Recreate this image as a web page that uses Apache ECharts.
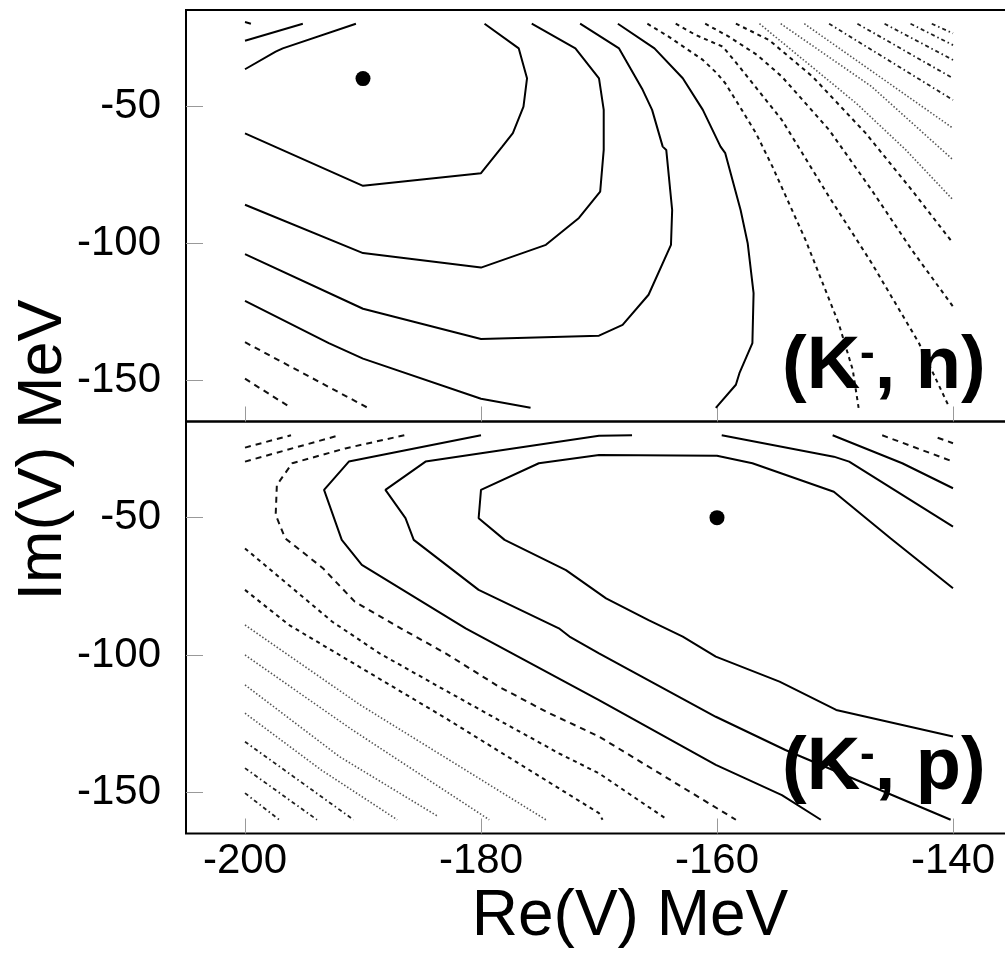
<!DOCTYPE html>
<html><head><meta charset="utf-8">
<script src="https://cdn.jsdelivr.net/npm/echarts@6/dist/echarts.min.js"></script>
<style>html,body{margin:0;padding:0;background:#fff}#c{width:1005px;height:956px}</style>
</head><body><div id="c"></div>
<script>
// ---- axis ticks / labels ----
const xTicks = [-200, -180, -160, -140];
const yTicks = [-150, -100, -50];
const xTitle = 'Re(V) MeV';
const yTitle = 'Im(V) MeV';
const panelTags = ['n', 'p'];

// ---- best-fit points ----
const bestN = [[-190, -40]];
const bestP = [[-160, -50]];

// ---- (K-, n) panel contours ----
const nS0 = [[-200, -19.4], [-199.5, -20]];
const nS1 = [[-200, -26.2], [-195.1, -20]];
const nS2 = [[-200, -36.6], [-197.4, -30.2], [-196.8, -29], [-190.6, -20]];
const nC1 = [[-200, -60], [-190, -79.1], [-180, -74.5], [-178.2, -64.8], [-177.3, -59.9], [-176.4, -50.2], [-176.1, -39.9], [-176.8, -29], [-179.7, -20]];
const nC2 = [[-200, -86], [-190, -103.6], [-180, -108.9], [-174.5, -100.6], [-171.7, -90.8], [-169.9, -81.2], [-169.6, -66], [-169.6, -51.4], [-170, -39.9], [-172, -29], [-175.7, -20]];
const nC3 = [[-200, -104], [-190, -123.9], [-180, -134.9], [-170, -133.7], [-168, -129.8], [-165.8, -118.8], [-163.9, -100.6], [-163.8, -87.9], [-164.3, -66], [-164.6, -64.8], [-165.5, -51.4], [-166.3, -44.1], [-168.3, -29], [-171.6, -20]];
const nC4 = [[-168.4, -20], [-165.3, -29], [-162.9, -39.9], [-161.2, -51.4], [-159.7, -64.8], [-159.3, -67.2], [-158, -87.9], [-157.4, -100], [-156.9, -118.2], [-157, -136.4], [-158.1, -147.4], [-158.4, -151.6], [-160.1, -160]];
const nC5 = [[-200, -121], [-192.9, -136.4], [-190, -142.1], [-180, -156.7], [-175.8, -160]];
const nDa = [[-200, -136.1], [-189.6, -160]];
const nDb = [[-200, -149.4], [-196.1, -160]];
const nD1 = [[-165.9, -20], [-164.1, -24.7], [-161.2, -33.2], [-160, -38.1], [-159.3, -41.7], [-157.9, -51.4], [-156.7, -59.9], [-155.3, -72.1], [-152.5, -98.8], [-149.7, -129.1], [-148.5, -146.1], [-148, -160]];
const nD2 = [[-163.5, -20], [-161.8, -24.1], [-159.5, -28.4], [-158.1, -35.7], [-154.5, -55.1], [-150.5, -83.1], [-146.9, -107.2], [-142.9, -136.3], [-140.3, -160]];
const nD3 = [[-161, -20], [-159, -24.7], [-156.6, -31.4], [-154.5, -39.3], [-150.5, -58.7], [-146.9, -80.6], [-143.5, -102.4], [-140, -123.1]];
const nD4 = [[-158.4, -20], [-155.6, -25.9], [-151.9, -39.3], [-147.4, -59.9], [-143.5, -80.6], [-140, -100]];
const nF1 = [[-156.4, -20], [-148.2, -49], [-144, -66], [-140, -84.2]];
const nF2 = [[-154.6, -20], [-146.9, -42.9], [-140, -69.6]];
const nF3 = [[-152.6, -20], [-140, -58.1]];
const nG1 = [[-150.5, -20], [-140, -47.8]];
const nG2 = [[-148.1, -20], [-140, -39.9]];
const nG3 = [[-145.8, -20], [-140, -33.2]];
const nG4 = [[-143.6, -20], [-140, -27.8]];
const nG5 = [[-141.8, -20], [-140, -23.5]];

// ---- (K-, p) panel contours ----
const pC1 = [[-140, -75.7], [-145.3, -57.5], [-150.1, -40.6], [-157, -30.2], [-160, -27.5], [-170, -27.2], [-175.1, -30.2], [-180, -39.9], [-180.2, -50.2], [-178, -58.1], [-172.8, -69.1], [-169.4, -79.4], [-165.8, -87.3], [-162.9, -93.3], [-160.1, -100.6], [-154.7, -109.7], [-149.9, -120], [-140, -129.7]];
const pC2 = [[-167.2, -20], [-170, -20.2], [-184.7, -29.6], [-188.1, -39.9], [-186.4, -50.2], [-185.7, -58.1], [-180.2, -76.3], [-173.4, -90.3], [-172.5, -93.3], [-170, -99.4], [-160.1, -122.5], [-154.2, -134.6], [-140.2, -160]];
const pC3 = [[-180, -20], [-191.2, -29.6], [-193.3, -39.9], [-191.8, -58.1], [-190.1, -67.2], [-181.3, -90.3], [-180, -93.3], [-170, -116.4], [-160.1, -140], [-154.5, -151], [-151.2, -160]];
const pC4 = [[-159.6, -20], [-150.1, -27.8], [-148.8, -29.6], [-140, -53.3]];
const pC5 = [[-150.2, -20], [-144.3, -30.2], [-140, -39.3]];
const pDr1 = [[-146, -20], [-140, -29.6]];
const pDr2 = [[-141.3, -20.9], [-140, -22.9]];
const pD1 = [[-200, -24.5], [-196.1, -20]];
const pD2 = [[-200, -29.6], [-192, -20]];
const pD3 = [[-186.5, -20], [-191.5, -24.8], [-196, -30.2], [-197.3, -38.1], [-197.4, -49], [-196.6, -57.5], [-193.4, -68.4], [-190.7, -80.6], [-186.8, -90.3], [-183, -99.4], [-178.5, -111.5], [-174.5, -120.6], [-170, -129.7], [-158.4, -160]];
const pD4 = [[-200, -61.2], [-192.6, -87.9], [-188.6, -99.4], [-183.6, -111.5], [-178.5, -123.7], [-173.4, -135.8], [-170, -143.1], [-164.2, -160]];
const pD5 = [[-200, -76.3], [-196.3, -89], [-183, -123], [-170, -157.6], [-169.7, -160]];
const pF1 = [[-200, -89.1], [-190.3, -118], [-174.5, -160]];
const pF2 = [[-200, -100], [-191, -127], [-179.3, -160]];
const pF3 = [[-200, -110.9], [-192, -137], [-183.6, -158.9]];
const pF4 = [[-200, -121.2], [-193.5, -142], [-187.1, -160]];
const pG1 = [[-200, -131.6], [-190.8, -160]];
const pG2 = [[-200, -141.2], [-193.9, -160]];
const pG3 = [[-200, -150.3], [-197.1, -160]];

// ---- styles ----
const ST = {
  solid: { color: '#000', width: 2, type: 'solid' },
  dash: { color: '#111', width: 2, type: [4, 4] },
  longdash: { color: '#111', width: 2, type: [6, 5] },
  dot: { color: '#555', width: 1.6, type: [1.5, 2] },
  dashdot: { color: '#222', width: 1.8, type: [4, 3, 1.5, 3] }
};

const groups = [
  [0, 'solid', [nS0, nS1, nS2, nC1, nC2, nC3, nC4, nC5]],
  [0, 'longdash', [nDa, nDb]],
  [0, 'dash', [nD1, nD2, nD3, nD4]],
  [0, 'dot', [nF1, nF2, nF3]],
  [0, 'dashdot', [nG1, nG2, nG3, nG4, nG5]],
  [1, 'solid', [pC1, pC2, pC3, pC4, pC5]],
  [1, 'longdash', [pD1, pD2, pD3, pDr1, pDr2]],
  [1, 'dash', [pD4, pD5]],
  [1, 'dot', [pF1, pF2, pF3, pF4]],
  [1, 'dashdot', [pG1, pG2, pG3]]
];

const series = [];
groups.forEach(([panel, style, lines]) => {
  lines.forEach(d => series.push({
    type: 'line', xAxisIndex: panel, yAxisIndex: panel, data: d,
    showSymbol: false, symbol: 'none', lineStyle: ST[style], silent: true, z: 2
  }));
});
[bestN, bestP].forEach((d, i) => series.push({
  type: 'scatter', xAxisIndex: i, yAxisIndex: i, data: d, symbolSize: 15,
  itemStyle: { color: '#000', opacity: 1 }, z: 3
}));

const FONT = 'Liberation Sans, Arial, sans-serif';
function xAxis(i, showLabels) {
  return {
    type: 'value', gridIndex: i, min: -205, max: -135,
    axisLine: { show: false }, splitLine: { show: false },
    axisTick: { inside: true, length: 15, customValues: xTicks, lineStyle: { color: '#999', width: 1 } },
    axisLabel: { show: showLabels, customValues: xTicks, fontSize: 42, color: '#000', fontFamily: FONT, margin: 7 }
  };
}
function yAxis(i) {
  return {
    type: 'value', gridIndex: i, min: -165, max: -15,
    axisLine: { show: false }, splitLine: { show: false },
    axisTick: { inside: true, length: 17, customValues: yTicks, lineStyle: { color: '#999', width: 1 } },
    axisLabel: { customValues: yTicks, fontSize: 42, color: '#000', fontFamily: FONT, margin: 25 }
  };
}

function tag(letter, y) {
  return {
    type: 'text', left: 782, top: y, z: 10,
    style: {
      text: '{b|(K}{s|-}{b|, ' + letter + ')}',
      rich: {
        b: { fontSize: 74, fontWeight: 'bold', fontFamily: FONT, fill: '#000', lineHeight: 80 },
        s: { fontSize: 44, fontWeight: 'bold', fontFamily: FONT, fill: '#000', lineHeight: 44, verticalAlign: 'top', padding: [5, 0, 0, 0] }
      }
    }
  };
}

const chart = echarts.init(document.getElementById('c'), null, { renderer: 'canvas' });
chart.setOption({
  animation: false,
  backgroundColor: '#fff',
  grid: [
    { left: 186, top: 10, width: 826, height: 411.5, show: true, borderColor: '#000', borderWidth: 2, backgroundColor: 'transparent', outerBoundsMode: 'none', containLabel: false },
    { left: 186, top: 421.5, width: 826, height: 412, show: true, borderColor: '#000', borderWidth: 2, backgroundColor: 'transparent', outerBoundsMode: 'none', containLabel: false }
  ],
  xAxis: [xAxis(0, false), xAxis(1, true)],
  yAxis: [yAxis(0), yAxis(1)],
  series: series,
  graphic: [
    { type: 'text', x: 630, y: 917, style: { text: xTitle, fontSize: 64, fontFamily: FONT, fill: '#000', align: 'center', verticalAlign: 'middle' } },
    { type: 'text', x: 44, y: 450, rotation: Math.PI / 2, style: { text: yTitle, fontSize: 63, fontFamily: FONT, fill: '#000', align: 'center', verticalAlign: 'middle' } },
    tag(panelTags[0], 328),
    tag(panelTags[1], 729)
  ]
});
</script></body></html>
